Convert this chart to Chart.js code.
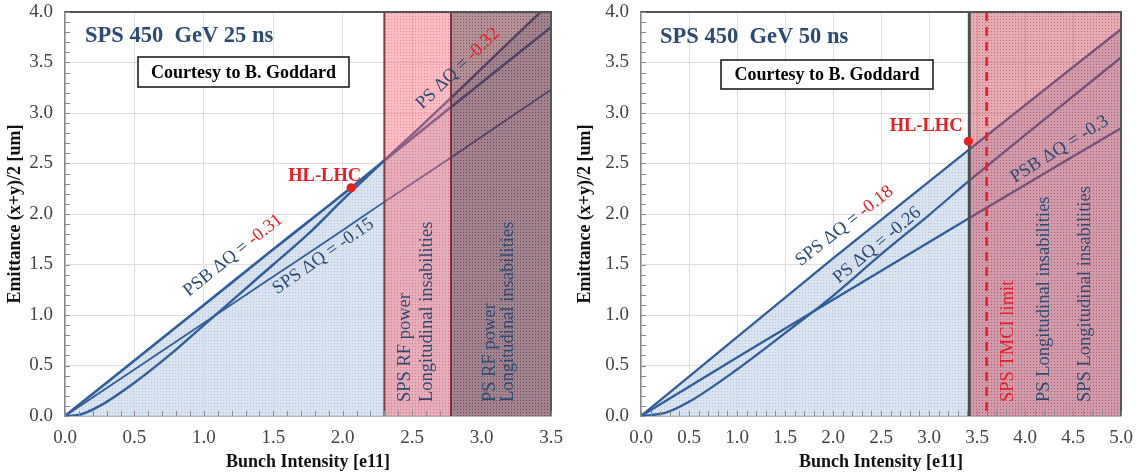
<!DOCTYPE html>
<html>
<head>
<meta charset="utf-8">
<script src="https://cdn.jsdelivr.net/npm/chart.js@4.4.1/dist/chart.umd.min.js"></script>
<style>
  html, body { margin: 0; padding: 0; background: #fff; }
  #wrap { position: relative; width: 1140px; height: 475px; }
  .panel { position: absolute; top: 0; width: 570px; height: 475px; }
</style>
</head>
<body>
<div id="wrap">
  <div class="panel" style="left:0"><canvas id="c25" width="570" height="475"></canvas></div>
  <div class="panel" style="left:570px"><canvas id="c50" width="570" height="475"></canvas></div>
</div>
<script>
// ---- 25 ns beam: emittance limit vs bunch intensity ----
const psbX25 = [0, 0.5, 1.0, 1.5, 2.06, 2.3, 3.5];
const psbY25 = [0, 0.55, 1.1, 1.65, 2.26, 2.53, 3.85];
const psX25 = [0, 0.1, 0.25, 0.5, 0.75, 1.0, 1.25, 1.5, 1.75, 2.0, 2.3, 2.78, 3.5];
const psY25 = [0, 0.01, 0.1, 0.33, 0.6, 0.9, 1.2, 1.5, 1.8, 2.14, 2.53, 3.15, 4.1];
const spsX25 = [0, 0.5, 1.0, 1.5, 2.0, 2.3, 2.78, 3.5];
const spsY25 = [0, 0.46, 0.92, 1.38, 1.84, 2.12, 2.56, 3.23];
const limits25 = [2.3, 2.78, 3.5];      // SPS RF power | PS RF power | axis end
const hllhc25 = [2.06, 2.26];

// ---- 50 ns beam ----
const spsX50 = [0, 1.0, 2.0, 3.42, 5.0];
const spsY50 = [0, 0.78, 1.56, 2.64, 3.83];
const psX50 = [0, 0.25, 0.5, 1.0, 1.5, 2.0, 2.5, 3.0, 3.42, 5.0];
const psY50 = [0, 0.03, 0.14, 0.46, 0.82, 1.19, 1.6, 1.99, 2.33, 3.55];
const psbX50 = [0, 1.0, 2.0, 3.42, 5.0];
const psbY50 = [0, 0.58, 1.15, 1.96, 2.85];
const limits50 = [3.42, 5.0];           // longitudinal instabilities | axis end
const tmci50 = 3.6;
const hllhc50 = [3.41, 2.72];

const yTicks = [0, 0.5, 1.0, 1.5, 2.0, 2.5, 3.0, 3.5, 4.0];

const SERIF = "'Liberation Serif', 'Times New Roman', serif";
const NAVY = '#2c4a74';
const RED = '#ea1c24';
const LINE_BLUE = '#2f5e9a';

const zip = (xs, ys) => xs.map((v, i) => ({ x: v, y: ys[i] }));

// upper envelope used for the shaded area under the limits
function envelope(a, b, split) {
  return a.filter(p => p.x <= split).concat(b.filter(p => p.x > split));
}

const patternCache = {};
function makePattern(ctx, base, dot) {
  const key = base + dot;
  if (patternCache[key]) return patternCache[key];
  const c = document.createElement('canvas');
  c.width = 3; c.height = 3;
  const g = c.getContext('2d');
  g.fillStyle = base; g.fillRect(0, 0, 3, 3);
  g.fillStyle = dot; g.fillRect(1, 1, 1, 1);
  patternCache[key] = ctx.createPattern(c, 'repeat');
  return patternCache[key];
}

function lineSet(label, pts, width) {
  return {
    label, data: pts, borderColor: LINE_BLUE, borderWidth: width,
    pointRadius: 0, fill: false, cubicInterpolationMode: 'monotone', order: 1
  };
}

function drawMixed(ctx, parts, cx, cy, deg, size) {
  ctx.save();
  ctx.translate(cx, cy);
  ctx.rotate(deg * Math.PI / 180);
  ctx.font = size + 'px ' + SERIF;
  ctx.textBaseline = 'middle';
  ctx.textAlign = 'left';
  const total = parts.reduce((s, p) => s + ctx.measureText(p[0]).width, 0);
  let px = -total / 2;
  parts.forEach(([txt, col]) => {
    ctx.fillStyle = col;
    ctx.fillText(txt, px, 0);
    px += ctx.measureText(txt).width;
  });
  ctx.restore();
}

const overlay = {
  id: 'overlay',
  afterDatasetsDraw(chart, args, o) {
    const { ctx, chartArea: a, scales: { x, y } } = chart;
    ctx.save();
    // instability / limit bands
    o.bands.forEach(b => {
      const x0 = x.getPixelForValue(b.from), x1 = x.getPixelForValue(b.to);
      ctx.fillStyle = makePattern(ctx, b.color, b.dot);
      ctx.fillRect(x0, a.top, x1 - x0, a.bottom - a.top);
    });
    o.edges.forEach(e => {
      const px = x.getPixelForValue(e.at);
      ctx.strokeStyle = e.color; ctx.lineWidth = e.width;
      ctx.setLineDash(e.dash || []);
      ctx.beginPath(); ctx.moveTo(px, a.top); ctx.lineTo(px, a.bottom); ctx.stroke();
    });
    ctx.setLineDash([]);
    // frame top / right
    ctx.strokeStyle = '#555'; ctx.lineWidth = 2;
    ctx.beginPath();
    ctx.moveTo(a.left, a.top); ctx.lineTo(a.right, a.top); ctx.lineTo(a.right, a.bottom);
    ctx.stroke();
    // minor ticks
    ctx.strokeStyle = '#8a8a8a'; ctx.lineWidth = 1;
    ctx.beginPath();
    for (let v = 0; v <= y.max + 1e-9; v += 0.1) {
      const py = Math.round(y.getPixelForValue(v)) + 0.5;
      ctx.moveTo(a.left, py); ctx.lineTo(a.left + 5, py);
    }
    for (let v = 0; v <= x.max + 1e-9; v += 0.1) {
      const px = Math.round(x.getPixelForValue(v)) + 0.5;
      ctx.moveTo(px, a.bottom); ctx.lineTo(px, a.bottom - 5);
    }
    ctx.stroke();

    // panel title
    ctx.font = 'bold 22.5px ' + SERIF;
    ctx.fillStyle = NAVY; ctx.textAlign = 'left'; ctx.textBaseline = 'alphabetic';
    ctx.fillText(o.title, a.left + o.titleAt[0], a.top + o.titleAt[1]);

    // courtesy box
    const bx = a.left + o.box[0], by = a.top + o.box[1], bw = o.box[2], bh = o.box[3];
    ctx.fillStyle = '#fff'; ctx.fillRect(bx, by, bw, bh);
    ctx.strokeStyle = '#111'; ctx.lineWidth = 1.5; ctx.strokeRect(bx, by, bw, bh);
    ctx.font = 'bold 18px ' + SERIF; ctx.fillStyle = '#000';
    ctx.textAlign = 'center'; ctx.textBaseline = 'middle';
    ctx.fillText('Courtesy to B. Goddard', bx + bw / 2, by + bh / 2 + 1);

    // HL-LHC working point
    const hx = x.getPixelForValue(o.hl.pt[0]), hy = y.getPixelForValue(o.hl.pt[1]);
    ctx.fillStyle = RED;
    ctx.beginPath(); ctx.arc(hx, hy, 4.5, 0, Math.PI * 2); ctx.fill();
    ctx.font = 'bold 18.5px ' + SERIF;
    ctx.fillText('HL-LHC', x.getPixelForValue(o.hl.text[0]), y.getPixelForValue(o.hl.text[1]));

    // ΔQ labels along the curves
    o.curveLabels.forEach(l => {
      drawMixed(ctx, l.parts, x.getPixelForValue(l.at[0]), y.getPixelForValue(l.at[1]), l.deg, 18.5);
    });

    // vertical band captions
    o.vLabels.forEach(l => {
      ctx.save();
      ctx.translate(x.getPixelForValue(l.x), a.bottom - 14);
      ctx.rotate(-Math.PI / 2);
      ctx.font = '18.5px ' + SERIF; ctx.fillStyle = l.color || NAVY;
      ctx.textAlign = 'left'; ctx.textBaseline = 'middle';
      ctx.fillText(l.text, 0, 0);
      ctx.restore();
    });
    ctx.restore();
  }
};

function axes(xMax, yWidth) {
  const tickFont = { family: SERIF, size: 19 };
  const titleFont = { family: SERIF, size: 18, weight: 'bold' };
  return {
    x: {
      type: 'linear', min: 0, max: xMax,
      afterBuildTicks: s => { s.ticks = []; for (let i = 0; i <= xMax * 2 + 1e-9; i++) s.ticks.push({ value: i / 2 }); },
      ticks: { callback: v => v.toFixed(1), font: tickFont, color: '#444', padding: 11, maxRotation: 0 },
      grid: { color: '#dedede', drawTicks: false },
      border: { color: '#8a8a8a', width: 1.5 },
      title: { display: true, text: 'Bunch Intensity [e11]', font: titleFont, color: '#111', padding: { bottom: 2 } },
      afterFit: s => { s.height = 59; s.paddingLeft = 0; s.paddingRight = 0; }
    },
    y: {
      type: 'linear', min: 0, max: 4.0,
      afterBuildTicks: s => { s.ticks = yTicks.map(v => ({ value: v })); },
      ticks: { callback: v => v.toFixed(1), font: tickFont, color: '#444', padding: 12 },
      grid: { color: '#dedede', drawTicks: false },
      border: { color: '#8a8a8a', width: 1.5 },
      title: { display: true, text: 'Emittance (x+y)/2 [um]', font: titleFont, color: '#111', padding: { top: 5 } },
      afterFit: s => { s.width = yWidth; s.paddingTop = 0; s.paddingBottom = 0; }
    }
  };
}

function build(canvasId, datasets, xMax, yWidth, overlayOpts) {
  return new Chart(document.getElementById(canvasId), {
    type: 'line',
    data: { datasets },
    options: {
      responsive: false, animation: false, parsing: false,
      layout: { padding: { top: 12, right: 19, left: 0, bottom: 0 } },
      plugins: { legend: { display: false }, tooltip: { enabled: false }, overlay: overlayOpts },
      scales: axes(xMax, yWidth)
    },
    plugins: [overlay]
  });
}

const ctx25 = document.getElementById('c25').getContext('2d');
const psb25 = zip(psbX25, psbY25), ps25 = zip(psX25, psY25), sps25 = zip(spsX25, spsY25);
build('c25', [
  lineSet('PSB ΔQ = -0.31', psb25, 2.6),
  lineSet('PS ΔQ = -0.32', ps25, 2.4),
  lineSet('SPS ΔQ = -0.15', sps25, 1.8),
  { label: 'region', data: envelope(psb25, ps25, limits25[0]), borderWidth: 0, pointRadius: 0,
    cubicInterpolationMode: 'monotone', fill: 'origin', order: 10,
    backgroundColor: makePattern(ctx25, 'rgba(212,223,237,0.85)', 'rgba(175,193,218,0.9)') }
], 3.5, 65, {
  title: 'SPS 450  GeV 25 ns', titleAt: [20, 30],
  box: [73, 45, 211, 30],
  hl: { pt: hllhc25, text: [1.87, 2.37] },
  bands: [
    { from: limits25[0], to: limits25[1], color: 'rgba(245,100,115,0.42)', dot: 'rgba(230,85,100,0.52)' },
    { from: limits25[1], to: limits25[2], color: 'rgba(110,45,55,0.52)', dot: 'rgba(95,35,45,0.6)' }
  ],
  edges: [
    { at: limits25[0], color: '#8e3645', width: 2 },
    { at: limits25[1], color: '#7a3440', width: 2 }
  ],
  curveLabels: [
    { parts: [['PSB ΔQ = ', NAVY], ['-0.31', RED]], at: [1.21, 1.59], deg: -38.5 },
    { parts: [['SPS ΔQ = -0.15', NAVY]], at: [1.86, 1.58], deg: -35 },
    { parts: [['PS ΔQ = ', NAVY], ['-0.32', RED]], at: [2.83, 3.44], deg: -44 }
  ],
  vLabels: [
    { x: 2.45, text: 'SPS RF power' },
    { x: 2.61, text: 'Longitudinal insabilities' },
    { x: 3.06, text: 'PS RF power' },
    { x: 3.19, text: 'Longitudinal insabilities' }
  ]
});

const ctx50 = document.getElementById('c50').getContext('2d');
const sps50 = zip(spsX50, spsY50), ps50 = zip(psX50, psY50), psb50 = zip(psbX50, psbY50);
build('c50', [
  lineSet('SPS ΔQ = -0.18', sps50, 2.3),
  lineSet('PS ΔQ = -0.26', ps50, 2.3),
  lineSet('PSB ΔQ = -0.3', psb50, 2.3),
  { label: 'region', data: sps50, borderWidth: 0, pointRadius: 0, fill: 'origin', order: 10,
    backgroundColor: makePattern(ctx50, 'rgba(212,223,237,0.85)', 'rgba(175,193,218,0.9)') }
], 5.0, 71, {
  title: 'SPS 450  GeV 50 ns', titleAt: [19, 31],
  box: [80, 48, 212, 29],
  hl: { pt: hllhc50, text: [2.97, 2.87] },
  bands: [
    { from: limits50[0], to: limits50[1], color: 'rgba(195,65,85,0.44)', dot: 'rgba(175,50,70,0.52)' }
  ],
  edges: [
    { at: limits50[0], color: '#4d4d4d', width: 3 },
    { at: tmci50, color: RED, width: 2.5, dash: [9, 6] }
  ],
  curveLabels: [
    { parts: [['SPS ΔQ = ', NAVY], ['-0.18', RED]], at: [2.12, 1.88], deg: -38 },
    { parts: [['PS ΔQ = -0.26', NAVY]], at: [2.46, 1.69], deg: -40 },
    { parts: [['PSB ΔQ = -0.3', NAVY]], at: [4.36, 2.64], deg: -32 }
  ],
  vLabels: [
    { x: 3.82, text: 'SPS TMCI limit', color: RED },
    { x: 4.2, text: 'PS Longitudinal insabilities' },
    { x: 4.63, text: 'SPS Longitudinal insabilities' }
  ]
});
</script>
</body>
</html>
